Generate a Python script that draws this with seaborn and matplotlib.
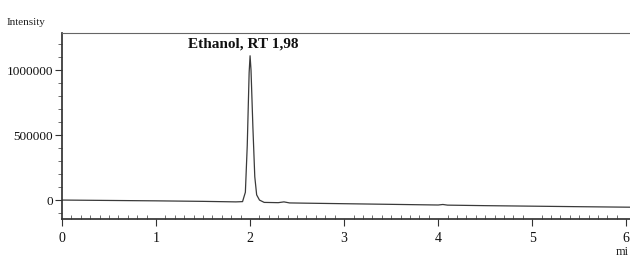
import numpy as np
import pandas as pd
import seaborn as sns
import matplotlib.pyplot as plt
from matplotlib.ticker import MultipleLocator

# Chromatogram trace (time in min, intensity in counts)
time_min = [0.0, 0.5, 1.0, 1.5, 1.85, 1.92, 1.95, 1.97, 1.99, 2.0, 2.01,
            2.03, 2.05, 2.07, 2.1, 2.15, 2.3, 2.36, 2.42, 2.6, 3.0, 3.5,
            4.0, 4.05, 4.1, 4.5, 5.0, 5.5, 6.05]
intensity = [0, -3000, -6000, -10000, -14000, -12000, 60000, 420000,
             980000, 1110000, 1000000, 560000, 180000, 40000, 0, -18000,
             -20000, -14000, -22000, -24000, -28000, -33000, -38000,
             -34000, -39000, -43000, -47000, -51000, -55000]

peak_label = "Ethanol, RT 1,98"
x_ticks = [0, 1, 2, 3, 4, 5, 6]
y_ticks = [0, 500000, 1000000]

df = pd.DataFrame({'time': time_min, 'intensity': intensity})

sns.set_theme(style='ticks')
plt.rcParams['font.family'] = ['Liberation Serif', 'DejaVu Serif']

fig = plt.figure(figsize=(6.3, 2.58), dpi=100)
ax = fig.add_axes([0.0984, 0.151, 0.9016, 0.721])

sns.lineplot(data=df, x='time', y='intensity', ax=ax, color='#3a3a3a',
             linewidth=0.9)

ax.set_xlim(0, 6.04)
ax.set_ylim(-146000, 1285000)
ax.set_xticks(x_ticks)
ax.set_yticks(y_ticks)
ax.set_yticklabels([str(v) for v in y_ticks])
ax.xaxis.set_minor_locator(MultipleLocator(0.1))
ax.yaxis.set_minor_locator(MultipleLocator(100000))
ax.tick_params(axis='both', which='major', labelsize=10, length=5,
               width=0.8, color='#333333', labelcolor='#111111')
ax.tick_params(axis='y', which='major', labelsize=9.5, pad=1.5)
ax.tick_params(axis='both', which='minor', length=3, width=0.6,
               color='#555555')
ax.tick_params(axis='x', which='minor', direction='in')
ax.tick_params(axis='x', which='major', pad=4)
ax.set_xlabel('')
ax.set_ylabel('')

ax.spines['right'].set_visible(False)
ax.spines['top'].set_color('#666666')
ax.spines['top'].set_linewidth(0.8)
ax.spines['left'].set_color('#333333')
ax.spines['bottom'].set_color('#333333')

ax.text(1.93, 1150000, peak_label, ha='center', va='bottom',
        fontsize=11, fontweight='bold', color='#111111')
fig.text(0.011, 0.905, 'Intensity', fontsize=8, color='#222222')
fig.text(0.998, 0.01, 'mi', fontsize=9, color='#222222', ha='right')

plt.savefig('out.png', dpi=100)
plt.close()
